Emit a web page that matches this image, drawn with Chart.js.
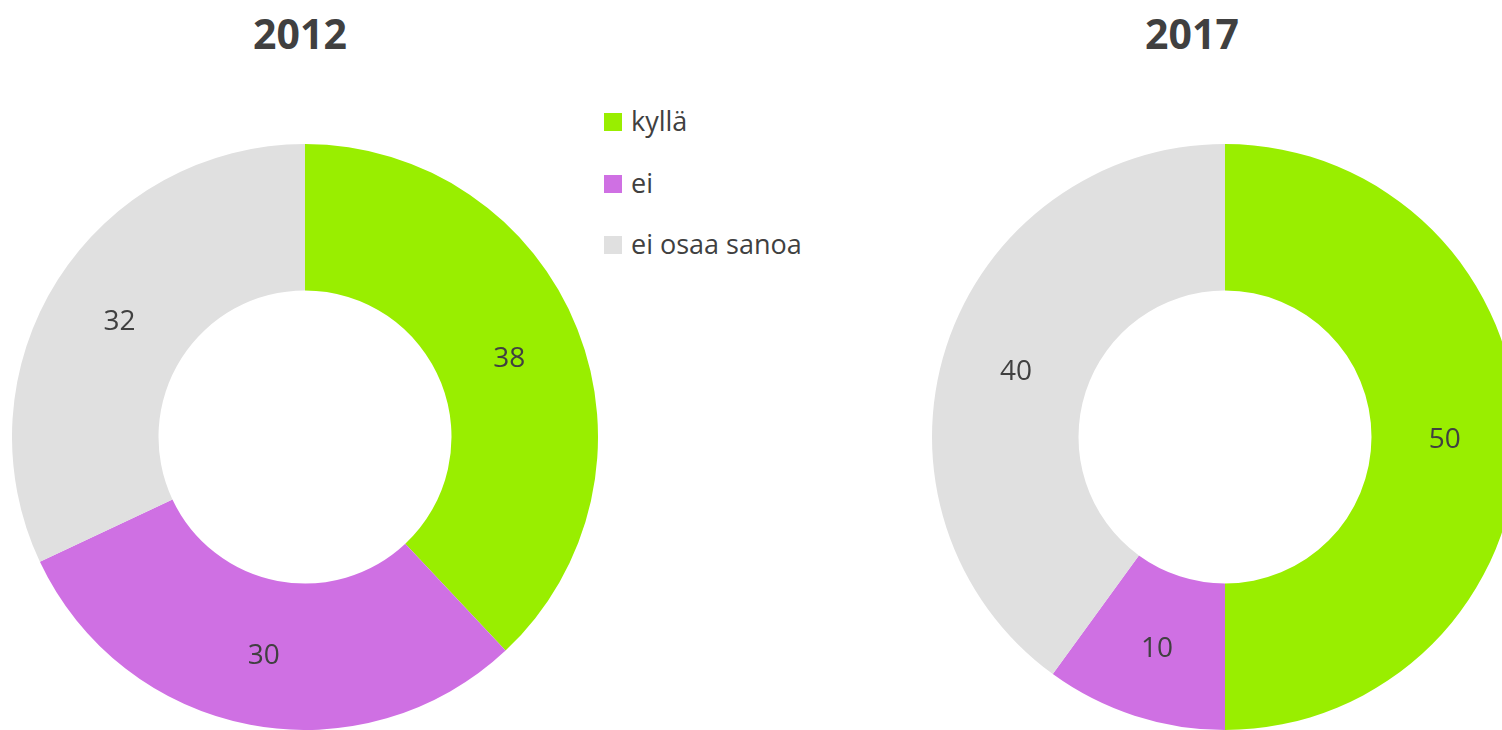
<!DOCTYPE html>
<html>
<head>
<meta charset="utf-8">
<script src="https://cdn.jsdelivr.net/npm/chart.js@4"></script>
<style>
  body { margin: 0; width: 1502px; height: 730px; overflow: hidden; background: #fff; position: relative; font-family: "Open Sans", sans-serif; color: #404040; }
  .title { position: absolute; top: 5px; font-size: 41px; font-weight: bold; width: 200px; text-align: center; }
  .box { position: absolute; top: 144px; width: 586px; height: 586px; }
  #legend { position: absolute; left: 604px; top: 102px; }
  #legend div { height: 61.5px; font-size: 27px; display: flex; align-items: flex-start; }
  #legend span.sw { display: inline-block; width: 18px; height: 18px; margin: 11px 9px 0 0; }
</style>
</head>
<body>
<div class="title" style="left:200px">2012</div>
<div class="title" style="left:1092px">2017</div>
<div id="legend"></div>
<div class="box" style="left:12px"><canvas id="c2012"></canvas></div>
<div class="box" style="left:932px"><canvas id="c2017"></canvas></div>
<script>
// Data
const categories = ["kyllä", "ei", "ei osaa sanoa"];
const values2012 = [38, 30, 32];
const values2017 = [50, 10, 40];
const colors = ["#99ee00", "#cf70e3", "#e0e0e0"];

// Legend
const legend = document.getElementById("legend");
categories.forEach((c, i) => {
  legend.innerHTML += `<div><span class="sw" style="background:${colors[i]}"></span>${c}</div>`;
});

// Value labels inside slices
const valueLabels = {
  id: "valueLabels",
  afterDatasetsDraw(chart) {
    const ctx = chart.ctx;
    const meta = chart.getDatasetMeta(0);
    ctx.save();
    ctx.font = "28px 'Open Sans', sans-serif";
    ctx.fillStyle = "#404040";
    ctx.textAlign = "center";
    ctx.textBaseline = "middle";
    meta.data.forEach((arc, i) => {
      const p = arc.tooltipPosition();
      ctx.fillText(chart.data.datasets[0].data[i], p.x, p.y + 3);
    });
    ctx.restore();
  }
};

function makeDonut(id, values) {
  return new Chart(document.getElementById(id), {
    type: "doughnut",
    data: {
      labels: categories,
      datasets: [{
        data: values,
        backgroundColor: colors,
        borderWidth: 0
      }]
    },
    options: {
      responsive: true,
      maintainAspectRatio: false,
      animation: false,
      cutout: "50%",
      layout: { padding: 0 },
      plugins: { legend: { display: false }, tooltip: { enabled: false } }
    },
    plugins: [valueLabels]
  });
}

makeDonut("c2012", values2012);
makeDonut("c2017", values2017);
</script>
</body>
</html>
